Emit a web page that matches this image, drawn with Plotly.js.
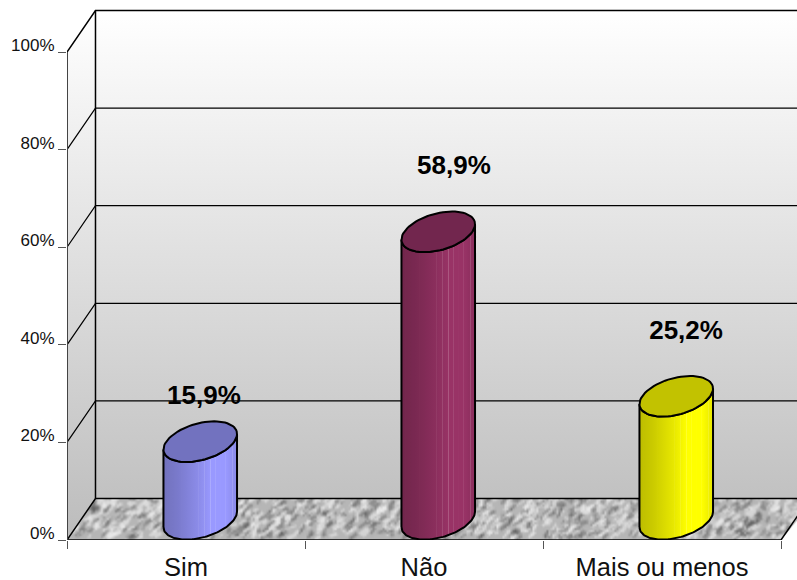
<!DOCTYPE html>
<html>
<head>
<meta charset="utf-8">
<script src="https://cdn.plot.ly/plotly-3.0.1.min.js"></script>
<style>html,body{margin:0;padding:0;background:#fff}#chart{width:797px;height:580px}</style>
</head>
<body>
<div id="chart"></div>
<script>
// ---- data ----
const categories = ['Sim', 'Não', 'Mais ou menos'];
const values = [15.9, 58.9, 25.2];
const yTicks = [0, 20, 40, 60, 80, 100];
const yTickLabels = ['0%', '20%', '40%', '60%', '80%', '100%'];

// ---- style and position ----
const bodyColors = ['#9999ff', '#993366', '#ffff00'];
const capColors = ['#7272bf', '#72264e', '#c2c200'];
const labelDX = [0.0756, 0.126, 0.101];
const labelDY = [13.4, 17.5, 17.4];
const DX = 0.1197, DY = 8.5;      // depth vector of the oblique projection, in axis units
const HALF_W = 0.143;             // cylinder half width, in category units
const xMax = 730 / 238, yMax = 535 / 4.88;

const proj = (c, v, d) => [c + d * DX, v + d * DY];
function path(pts) {
  const p = pts.map(a => a === null ? [null, null] : proj(a[0], a[1], a[2]));
  return {x: p.map(a => a[0]), y: p.map(a => a[1])};
}
const base = {type: 'scatter', mode: 'lines', hoverinfo: 'skip', showlegend: false, cliponaxis: false};

function hexToRgb(h) { return [1, 3, 5].map(i => parseInt(h.substr(i, 2), 16)); }
function shade(h, f, w) {
  const c = hexToRgb(h).map(v => v * f);
  return 'rgb(' + c.map(v => Math.round(v + (255 - v) * (w || 0))).join(',') + ')';
}
const shadeStops = [[0, .74], [.2, .8], [.45, .9], [.65, 1], [.85, 1], [1, .9]];
const stripeAt = [.05, .09, .13, .17, .25, .32, .48, .56, .64, .71, .78, .84, .89, .94];
function shadeAt(t) {
  for (let i = 1; i < shadeStops.length; i++) {
    if (t <= shadeStops[i][0]) {
      const a = shadeStops[i - 1], b = shadeStops[i];
      return a[1] + (b[1] - a[1]) * (t - a[0]) / (b[0] - a[0]);
    }
  }
  return 1;
}
function bodyScale(col) {
  const all = shadeStops.map(s => s[0]);
  stripeAt.forEach(s => { all.push(s - .005, s, s + .005); });
  return all.sort((a, b) => a - b).map(t => {
    const isStripe = stripeAt.some(s => Math.abs(s - t) < 1e-6);
    return [t, shade(col, shadeAt(t), isStripe ? .2 : 0)];
  });
}

const traces = [];
// walls
const wallScale = [[0, '#ffffff'], [1, '#bcbcbc']];
const wallGrad = {type: 'vertical', colorscale: wallScale, start: DY + 100, stop: 0};
traces.push(Object.assign({}, base, path([[0, 0, 0], [0, 0, 1], [0, 100, 1], [0, 100, 0], [0, 0, 0]]),
  {fill: 'toself', fillgradient: wallGrad, line: {width: 0}}));
traces.push(Object.assign({}, base, path([[0, 0, 1], [4, 0, 1], [4, 100, 1], [0, 100, 1], [0, 0, 1]]),
  {fill: 'toself', fillgradient: wallGrad, line: {width: 0}}));
// gridlines
const grid = [];
yTicks.slice(1, -1).forEach(v => grid.push([0, v, 0], [0, v, 1], [4, v, 1], null));
traces.push(Object.assign({}, base, path(grid), {line: {color: '#000', width: 1.2}}));
// frame
traces.push(Object.assign({}, base, path([[0, 0, 0], [0, 0, 1], [4, 0, 1], null, [0, 100, 1], [0, 0, 1], null,
  [0, 100, 0], [0, 100, 1], [4, 100, 1], null, [0, 0, 0], [3, 0, 0], [3, 0, 1]]),
  {line: {color: '#000', width: 1.5}}));
traces.push(Object.assign({}, base, path([[0, 0, 0], [0, 100, 0]]), {line: {color: '#444', width: 2}}));

// cylinders
const N = 72;
function arc(c, v, a0, a1) {
  const pts = [];
  for (let i = 0; i <= N; i++) {
    const t = a0 + (a1 - a0) * i / N;
    pts.push([c + HALF_W * Math.cos(t), v, 0.5 + 0.49 * Math.sin(t)]);
  }
  return pts;
}
// angle of the silhouette tangents on the ellipse
const tang = Math.atan2(0.49 * DX, HALF_W);
categories.forEach((name, i) => {
  const c = i + 0.5;
  const v = values[i];
  const low = arc(c, 0, Math.PI + tang, 2 * Math.PI + tang);     // near half of the foot, left to right
  const high = arc(c, v, 2 * Math.PI + tang, Math.PI + tang);    // near half of the top, right to left
  const outline = low.concat(high);
  outline.push(low[0]);
  traces.push(Object.assign({}, base, path(outline), {
    name: name, fill: 'toself', line: {color: '#000', width: 2},
    fillgradient: {type: 'horizontal', colorscale: bodyScale(bodyColors[i])}
  }));
  traces.push(Object.assign({}, base, path(arc(c, v, 0, 2 * Math.PI)), {
    fill: 'toself', fillcolor: capColors[i], line: {color: '#000', width: 2}
  }));
});
// value labels
traces.push({
  type: 'scatter', mode: 'text', hoverinfo: 'skip', showlegend: false, cliponaxis: false,
  x: values.map((v, i) => i + 0.5 + labelDX[i]),
  y: values.map((v, i) => v + labelDY[i]),
  text: values.map(v => v.toFixed(1).replace('.', ',') + '%'),
  textposition: 'middle center',
  textfont: {family: '"Liberation Sans", Arial, sans-serif', size: 26, color: '#000', weight: 'bold'}
});

// marbled floor, painted on a canvas from a fixed integer sequence
function floorImage() {
  const W = 745, H = 42, S = 2;
  const lo = document.createElement('canvas');
  lo.width = Math.ceil(W / S); lo.height = Math.ceil(H / S);
  const g = lo.getContext('2d');
  g.fillStyle = '#b6b6b6';
  g.fillRect(0, 0, lo.width, lo.height);
  let seed = 12345;
  const next = () => (seed = (seed * 1103515 + 12345) % 2147483648) / 2147483648;
  for (let i = 0; i < 1500; i++) {
    const x = next() * lo.width, y = next() * lo.height, k = next();
    g.strokeStyle = k < .42 ? 'rgba(70,70,70,.36)' : 'rgba(240,240,240,.55)';
    g.lineWidth = 0.8 + next() * 1.4;
    g.beginPath();
    g.moveTo(x, y);
    g.lineTo(x + 1 + next() * 3, y - 1 - next() * 3);
    g.stroke();
  }
  const out = document.createElement('canvas');
  out.width = W; out.height = H;
  const o = out.getContext('2d');
  o.beginPath();
  o.moveTo(0, H); o.lineTo(28.5, 0); o.lineTo(745, 0); o.lineTo(745, 4); o.lineTo(714, H); o.closePath();
  o.clip();
  o.imageSmoothingEnabled = true;
  o.drawImage(lo, 0, 0, W, H);
  return out.toDataURL('image/png');
}

const font = '"Liberation Sans", Arial, sans-serif';
const layout = {
  width: 797, height: 580,
  margin: {l: 67, r: 0, t: 5, b: 40},
  paper_bgcolor: '#fff', plot_bgcolor: 'rgba(0,0,0,0)',
  showlegend: false, hovermode: false,
  font: {family: font, color: '#111'},
  xaxis: {
    type: 'linear', range: [0, xMax], showgrid: false, zeroline: false, showline: false,
    tickmode: 'array', tickvals: categories.map((c, i) => i + 0.5), ticktext: categories,
    ticks: '', tickfont: {size: 25.5, family: font, color: '#111'}, ticklabelstandoff: 9,
    minor: {tickmode: 'array', tickvals: [0, 1, 2, 3], ticks: 'outside', ticklen: 8, tickwidth: 1, tickcolor: '#555', showgrid: false}
  },
  yaxis: {
    type: 'linear', range: [0, yMax], showgrid: false, zeroline: false, showline: false,
    tickmode: 'array', tickvals: yTicks, ticktext: yTickLabels,
    ticks: 'outside', ticklen: 8, tickwidth: 1, tickcolor: '#555',
    tickfont: {size: 17, family: font, color: '#111'}, ticklabelshift: -7
  },
  images: [{
    source: floorImage(), xref: 'x', yref: 'y', x: 0, y: DY, sizex: 745 / 238, sizey: DY,
    sizing: 'stretch', xanchor: 'left', yanchor: 'top', layer: 'below'
  }]
};
Plotly.newPlot('chart', traces, layout, {displayModeBar: false, staticPlot: true});
</script>
</body>
</html>
